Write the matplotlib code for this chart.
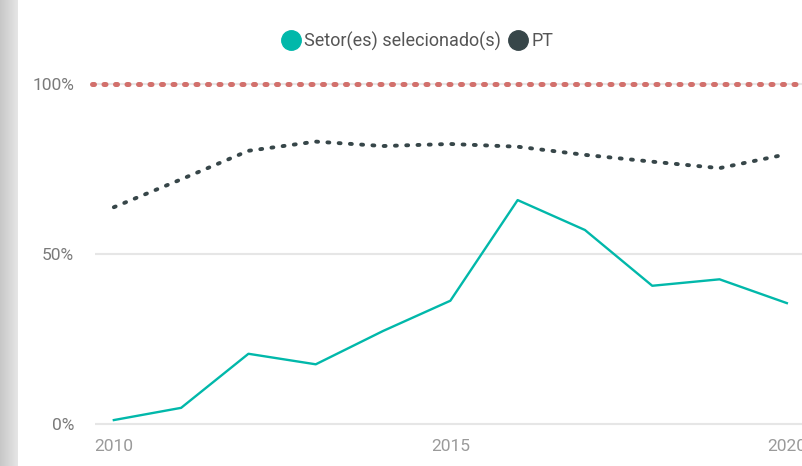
import matplotlib
matplotlib.use("Agg")
import matplotlib.pyplot as plt
import numpy as np
from matplotlib.lines import Line2D

# data
years = [2010, 2011, 2012, 2013, 2014, 2015, 2016, 2017, 2018, 2019, 2020]
setor = [1.3, 4.9, 20.8, 17.7, 27.5, 36.4, 66.0, 57.2, 40.8, 42.7, 35.7]
pt = [63.9, 72.1, 80.5, 83.2, 81.9, 82.5, 81.7, 79.3, 77.3, 75.4, 79.5]
meta = [100, 100]
y_ticks = [0, 50, 100]
y_labels = ["0%", "50%", "100%"]
x_ticks = [2010, 2015, 2020]

TEAL = "#01B8AA"
DARK = "#374649"
RED = "#D2706C"

plt.rcParams["font.family"] = ["Roboto", "DejaVu Sans"]

fig = plt.figure(figsize=(8.03, 4.66), dpi=100)
fig.patch.set_facecolor("white")

# grey shadow strip on the left edge
strip = fig.add_axes([0, 0, 18 / 803, 1])
grad = np.linspace(0.78, 0.9, 50).reshape(1, -1)
strip.imshow(grad, aspect="auto", cmap="gray", vmin=0, vmax=1, extent=[0, 1, 0, 1])
strip.axis("off")

ax = fig.add_axes([95 / 803, 1 - 435 / 466, 1 - 95 / 803, (435 - 70) / 466])
ax.set_xlim(2009.72, 2020.24)
ax.set_ylim(-3.09, 104.26)

for s in ax.spines.values():
    s.set_visible(False)
ax.set_yticks(y_ticks)
ax.set_yticklabels(y_labels)
ax.set_xticks(x_ticks)
ax.tick_params(axis="y", length=0, pad=15, labelsize=12.5, labelcolor="#7a7a7a")
ax.tick_params(axis="x", length=0, pad=3, labelsize=12.5, labelcolor="#9a9a9a")
ax.grid(axis="y", color="#e6e6e6", linewidth=1.5)
ax.set_axisbelow(True)

ax.plot([years[0] - 0.32, years[-1] + 0.3], meta, color=RED, linewidth=3.6,
        linestyle=(0, (0.4, 1.9)), dash_capstyle="round", clip_on=False, zorder=3)
ax.plot(years, pt, color=DARK, linewidth=2.8, linestyle=(0, (0.5, 2.4)),
        dash_capstyle="round", zorder=3)
ax.plot(years, setor, color=TEAL, linewidth=1.7, zorder=4)

handles = [
    Line2D([], [], marker="o", linestyle="none", markersize=14, color=TEAL),
    Line2D([], [], marker="o", linestyle="none", markersize=14, color=DARK),
]
leg = fig.legend(handles, ["Setor(es) selecionado(s)", "PT"], ncol=2,
                 loc="center", bbox_to_anchor=(417 / 803, 1 - 41 / 466),
                 frameon=False, fontsize=13, handletextpad=0.15,
                 columnspacing=0.45, handlelength=1.1)
for t in leg.get_texts():
    t.set_color("#555555")

fig.savefig("out.png", dpi=100, facecolor="white")
